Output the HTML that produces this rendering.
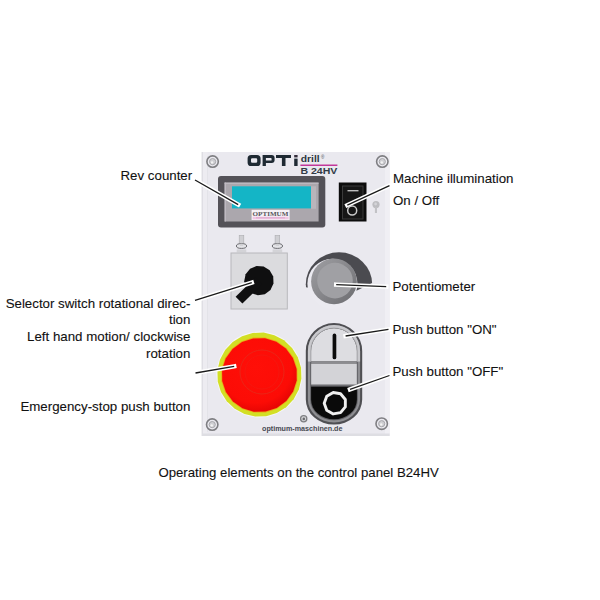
<!DOCTYPE html>
<html><head><meta charset="utf-8">
<style>
html,body{margin:0;padding:0;background:#fff;width:600px;height:600px;overflow:hidden}
svg{display:block}
.l{font-family:"Liberation Sans",sans-serif;font-size:13.3px;fill:#111;stroke:#111;stroke-width:0.1px}
</style></head><body>
<svg width="600" height="600" viewBox="0 0 600 600">
<defs>
  <radialGradient id="redg" cx="0.45" cy="0.4" r="0.6">
    <stop offset="0" stop-color="#ff0f08"/><stop offset="0.8" stop-color="#fc0c06"/><stop offset="1" stop-color="#e80604"/>
  </radialGradient>
  <linearGradient id="knobg" x1="0" y1="0" x2="1" y2="1">
    <stop offset="0" stop-color="#a0a0a4"/><stop offset="1" stop-color="#6c6c70"/>
  </linearGradient>
  <clipPath id="potclip"><polygon points="296,240 385,240 385,282.5 372.6,282.8 357,290.5 334,292 300,286.2"/></clipPath>
</defs>
<rect width="600" height="600" fill="#fff"/>

<!-- panel -->
<rect x="202" y="152" width="187.6" height="284" fill="#eae9ef"/>
<rect x="202" y="152" width="5.5" height="284" fill="#edecf1"/>
<rect x="385" y="152" width="4.6" height="284" fill="#f0eff4"/>
<rect x="201.6" y="152" width="1.1" height="284" fill="#d9d9de"/>
<rect x="207.2" y="156" width="0.8" height="276" fill="#e1e1e6"/>
<rect x="202" y="433.5" width="187.6" height="2.5" fill="#dedee3"/>
<!-- screws -->
<circle cx="212.6" cy="161.6" r="5.7" fill="none" stroke="#7e7e82" stroke-width="1.6"/>
<circle cx="212.6" cy="161.6" r="3.1" fill="#cfcfd3" stroke="#a2a2a6" stroke-width="0.9"/>
<circle cx="212.1" cy="162.4" r="1.2" fill="#f4f4f4"/>
<circle cx="382.3" cy="161.6" r="5.7" fill="none" stroke="#7e7e82" stroke-width="1.6"/>
<circle cx="382.3" cy="161.6" r="3.1" fill="#cfcfd3" stroke="#a2a2a6" stroke-width="0.9"/>
<circle cx="381.8" cy="162.4" r="1.2" fill="#f4f4f4"/>
<circle cx="212.2" cy="424.6" r="5.7" fill="none" stroke="#7e7e82" stroke-width="1.6"/>
<circle cx="212.2" cy="424.6" r="3.1" fill="#cfcfd3" stroke="#a2a2a6" stroke-width="0.9"/>
<circle cx="211.7" cy="425.40000000000003" r="1.2" fill="#f4f4f4"/>
<circle cx="381.7" cy="423.7" r="5.7" fill="none" stroke="#7e7e82" stroke-width="1.6"/>
<circle cx="381.7" cy="423.7" r="3.1" fill="#cfcfd3" stroke="#a2a2a6" stroke-width="0.9"/>
<circle cx="381.2" cy="424.5" r="1.2" fill="#f4f4f4"/>

<!-- logo -->
<g fill="#1f2a33" fill-rule="evenodd">
  <path d="M251.2,155 h5.8 a3.6,3.6 0 0 1 3.6,3.6 v3.8 a3.6,3.6 0 0 1 -3.6,3.6 h-5.8 a3.6,3.6 0 0 1 -3.6,-3.6 v-3.8 a3.6,3.6 0 0 1 3.6,-3.6 Z M252.2,158.3 a1.2,1.2 0 0 0 -1.2,1.2 v2 a1.2,1.2 0 0 0 1.2,1.2 h3.8 a1.2,1.2 0 0 0 1.2,-1.2 v-2 a1.2,1.2 0 0 0 -1.2,-1.2 Z"/>
  <path d="M262.6,155 h9 a3,3 0 0 1 3,3 v2 a3,3 0 0 1 -3,3 h-5.7 v3 h-3.3 Z M265.9,158 v2.6 h5 a0.7,0.7 0 0 0 0.7,-0.7 v-1.2 a0.7,0.7 0 0 0 -0.7,-0.7 Z"/>
  <path d="M276,155 h15 v3 h-5.5 v8 h-3.6 v-8 h-5.9 Z"/>
  <rect x="294.2" y="158.6" width="3.4" height="7.4"/>
</g>
<rect x="294.2" y="155" width="3.4" height="2.4" fill="#332c3a"/>
<text x="300.8" y="162" font-family="Liberation Sans" font-weight="bold" font-size="9.3" fill="#2c3640" textLength="18.8" lengthAdjust="spacingAndGlyphs">drill</text>
<text x="321" y="159.2" font-family="Liberation Sans" font-size="4.6" fill="#4a4a52">®</text>
<rect x="300.4" y="164.5" width="37" height="1.5" fill="#c2389a"/>
<text x="300.4" y="174" font-family="Liberation Sans" font-weight="bold" font-size="8.6" fill="#333c46" textLength="37" lengthAdjust="spacingAndGlyphs">B 24HV</text>

<!-- LCD -->
<rect x="218" y="176" width="107.3" height="51.4" rx="3" fill="#545258"/>
<rect x="224.6" y="182.6" width="94" height="38.9" fill="#aba7ad"/>
<rect x="311" y="186.3" width="5" height="22.5" fill="#b9b5bb"/>
<rect x="224.6" y="182.6" width="94" height="1.2" fill="#c0bcc4"/>
<rect x="224.6" y="182.6" width="1.3" height="38.9" fill="#c0bcc4"/>
<rect x="232" y="186.3" width="79" height="22.1" fill="#14b5c6"/>
<rect x="251.6" y="209.8" width="38" height="10.2" fill="#f6f2f6"/>
<text x="252.6" y="215.7" font-family="Liberation Serif" font-weight="bold" font-size="6.8" fill="#56545a" textLength="35.8" lengthAdjust="spacingAndGlyphs">OPTIMUM</text>
<rect x="252.6" y="216.7" width="36" height="2.6" fill="#f1c7e3"/>
<rect x="256" y="217.4" width="29" height="0.9" fill="#d9a2c8"/>

<!-- illumination switch -->
<rect x="338.8" y="182.5" width="27.7" height="39" fill="#0c0c0c"/>
<rect x="342.5" y="186" width="20.5" height="33" fill="#161616" stroke="#3a3a3a" stroke-width="1"/>
<rect x="347.5" y="190" width="11" height="1.4" fill="#bdbdbd"/>
<circle cx="352.2" cy="210.5" r="4.5" fill="none" stroke="#cacaca" stroke-width="1.5"/>
<!-- bulb -->
<circle cx="376" cy="204.6" r="3.6" fill="#bdbdc1"/>
<circle cx="375.6" cy="204" r="1.4" fill="#d4d4d8"/>
<rect x="374.9" y="207" width="2.1" height="6" fill="#c2c2c6"/>

<!-- selector bolts -->
<rect x="239.2" y="235.6" width="4.6" height="9" fill="#cfcfd3" stroke="#ababaf" stroke-width="0.6"/>
<rect x="236.7" y="249.4" width="9.6" height="3" fill="#d3d3d7"/>
<ellipse cx="241.5" cy="246" rx="5.1" ry="2.4" fill="#e4e4e8" stroke="#5e5e62" stroke-width="0.9"/>
<rect x="239.9" y="243.8" width="3.2" height="2" fill="#cfcfd3"/>
<rect x="275.1" y="235.6" width="4.6" height="9" fill="#cfcfd3" stroke="#ababaf" stroke-width="0.6"/>
<rect x="272.6" y="249.4" width="9.6" height="3" fill="#d3d3d7"/>
<ellipse cx="277.4" cy="246" rx="5.1" ry="2.4" fill="#e4e4e8" stroke="#5e5e62" stroke-width="0.9"/>
<rect x="275.8" y="243.8" width="3.2" height="2" fill="#cfcfd3"/>
<!-- selector box -->
<rect x="231" y="253" width="56.3" height="56" fill="#dbdbde" stroke="#b8b8bc" stroke-width="1"/>
<polygon points="273.50,283.54 270.48,289.94 264.82,294.21 257.83,295.35 251.11,293.12 246.19,288.02 244.21,281.22 245.62,274.27 250.09,268.78 256.61,265.99 263.67,266.56 269.66,270.33 273.21,276.46" fill="#0f0f10"/>
<polygon points="255.6,277.2 262.4,284 242.4,303.6 235.6,296.8" fill="#0f0f10"/>

<!-- potentiometer -->
<ellipse cx="339" cy="284.2" rx="33.2" ry="31.9" fill="#4b4b50" clip-path="url(#potclip)"/>
<circle cx="332.4" cy="283.8" r="25" fill="#ebeaf0"/>
<circle cx="334" cy="281.4" r="22.9" fill="url(#knobg)"/>
<circle cx="335" cy="280.6" r="17.8" fill="#a0a0a4"/>

<!-- emergency stop -->
<circle cx="259.4" cy="374.6" r="43" fill="#f6f6f8"/>
<polygon points="301.39,378.81 298.87,389.54 293.66,399.24 286.11,407.27 276.75,413.07 266.20,416.25 255.19,416.59 244.46,414.07 234.76,408.86 226.73,401.31 220.93,391.95 217.75,381.40 217.41,370.39 219.93,359.66 225.14,349.96 232.69,341.93 242.05,336.13 252.60,332.95 263.61,332.61 274.34,335.13 284.04,340.34 292.07,347.89 297.87,357.25 301.05,367.80" fill="#d3df24"/>
<polygon points="297.47,380.66 293.83,391.97 286.82,401.61 277.12,408.65 265.69,412.39 253.65,412.47 242.16,408.89 232.37,401.99 225.22,392.44 221.42,381.19 221.33,369.34 224.97,358.03 231.98,348.39 241.68,341.35 253.11,337.61 265.15,337.53 276.64,341.11 286.43,348.01 293.58,357.56 297.38,368.81" fill="#eda415"/>
<polygon points="296.68,380.54 293.11,391.61 286.25,401.05 276.75,407.94 265.56,411.60 253.77,411.68 242.52,408.17 232.93,401.42 225.93,392.08 222.21,381.06 222.12,369.46 225.69,358.39 232.55,348.95 242.05,342.06 253.24,338.40 265.03,338.32 276.28,341.83 285.87,348.58 292.87,357.92 296.59,368.94" fill="url(#redg)"/>
<circle cx="262" cy="372" r="22" fill="none" stroke="#e8281a" stroke-width="0.9"/>
<circle cx="262" cy="372" r="17" fill="none" stroke="#f01c14" stroke-width="0.6"/>
<!-- push button -->
<clipPath id="pbclip"><path d="M311.10,351.00 A22.90,22.70 0 0 1 356.90,351.00 L356.90,399.60 A22.90,19.70 0 0 1 334.00,419.30 L334.00,419.30 A22.90,19.70 0 0 1 311.10,399.60 Z"/></clipPath>
<path d="M305.80,351.00 A28.20,28.00 0 0 1 362.20,351.00 L362.20,399.60 A28.20,25.00 0 0 1 334.00,424.60 L334.00,424.60 A28.20,25.00 0 0 1 305.80,399.60 Z" fill="#4f4f53"/>
<path d="M307.90,351.00 A26.10,25.90 0 0 1 360.10,351.00 L360.10,399.60 A26.10,22.90 0 0 1 334.00,422.50 L334.00,422.50 A26.10,22.90 0 0 1 307.90,399.60 Z" fill="#8e8e92"/>
<path d="M310.20,351.00 A23.80,23.60 0 0 1 357.80,351.00 L357.80,399.60 A23.80,20.60 0 0 1 334.00,420.20 L334.00,420.20 A23.80,20.60 0 0 1 310.20,399.60 Z" fill="#5e5e62"/>
<clipPath id="pbring"><path d="M307.90,351.00 A26.10,25.90 0 0 1 360.10,351.00 L360.10,399.60 A26.10,22.90 0 0 1 334.00,422.50 L334.00,422.50 A26.10,22.90 0 0 1 307.90,399.60 Z"/></clipPath>
<clipPath id="pbring2"><path d="M310.20,351.00 A23.80,23.60 0 0 1 357.80,351.00 L357.80,399.60 A23.80,20.60 0 0 1 334.00,420.20 L334.00,420.20 A23.80,20.60 0 0 1 310.20,399.60 Z"/></clipPath>
<rect x="300" y="318" width="70" height="43.5" fill="#c9c9cd" clip-path="url(#pbring)"/>
<rect x="300" y="318" width="70" height="43.5" fill="#a9a9ad" clip-path="url(#pbring2)"/>

<path d="M311.10,351.00 A22.90,22.70 0 0 1 356.90,351.00 L356.90,399.60 A22.90,19.70 0 0 1 334.00,419.30 L334.00,419.30 A22.90,19.70 0 0 1 311.10,399.60 Z" fill="#0a0a0a"/>
<g clip-path="url(#pbclip)">
  <rect x="305" y="320" width="60" height="41.6" fill="#dddde1"/>
  <rect x="305" y="361.5" width="60" height="2" fill="#8c8c90"/>
  <rect x="305" y="363.5" width="60" height="21.3" fill="#d3d3d7"/>
  <rect x="305" y="384.8" width="60" height="1.8" fill="#6e6e72"/>
</g>
<rect x="332.6" y="333.6" width="3.7" height="25.7" rx="1.85" fill="#0b0b0b"/>
<polygon points="345.34,406.94 340.54,412.64 333.20,413.93 326.74,410.20 324.20,403.19 326.76,396.19 333.22,392.46 340.56,393.77 345.35,399.48" fill="none" stroke="#f0f0f0" stroke-width="2.9" stroke-linejoin="round"/>

<!-- footer -->
<circle cx="303.7" cy="418.7" r="3.1" fill="#d8d8dc" stroke="#7e7e82" stroke-width="1.3"/>
<circle cx="303.8" cy="418.9" r="1.3" fill="#6a6a6e"/>
<text x="262" y="430.8" font-family="Liberation Sans" font-weight="bold" font-size="8" fill="#474850" textLength="80.5" lengthAdjust="spacingAndGlyphs">optimum-maschinen.de</text>

<!-- leader lines -->
<path d="M195,180 L238.2,204.6 M347.3,205.2 L389.5,185.6 M195,300.4 L251.8,282.6 M336.2,284.6 L386.2,286.6 M195.5,373 L234.2,366.3 M345.6,336 L388.5,329.3 M350,389.4 L389.5,375.5" stroke="#fff" stroke-width="4.4" stroke-linecap="square" fill="none"/>
<path d="M195,180 L238.2,204.6 M347.3,205.2 L389.5,185.6 M195,300.4 L251.8,282.6 M336.2,284.6 L386.2,286.6 M195.5,373 L234.2,366.3 M345.6,336 L388.5,329.3 M350,389.4 L389.5,375.5" stroke="#1a1a1a" stroke-width="1.3" fill="none"/>

<!-- labels -->
<text class="l" x="120.5" y="180.4">Rev counter</text>
<text class="l" x="393" y="183">Machine illumination</text>
<text class="l" x="393" y="204.5">On / Off</text>
<text class="l" x="392.5" y="290.5">Potentiometer</text>
<text class="l" x="392.5" y="334">Push button "ON"</text>
<text class="l" x="392.5" y="376">Push button "OFF"</text>
<text class="l" x="190.4" y="307.8" text-anchor="end">Selector switch rotational direc-</text>
<text class="l" x="190.4" y="324.3" text-anchor="end">tion</text>
<text class="l" x="190.4" y="341" text-anchor="end">Left hand motion/ clockwise</text>
<text class="l" x="190.4" y="357.7" text-anchor="end">rotation</text>
<text class="l" x="190.4" y="411.2" text-anchor="end">Emergency-stop push button</text>
<text class="l" x="158.4" y="477" style="font-size:13.21px">Operating elements on the control panel B24HV</text>
</svg>
</body></html>
